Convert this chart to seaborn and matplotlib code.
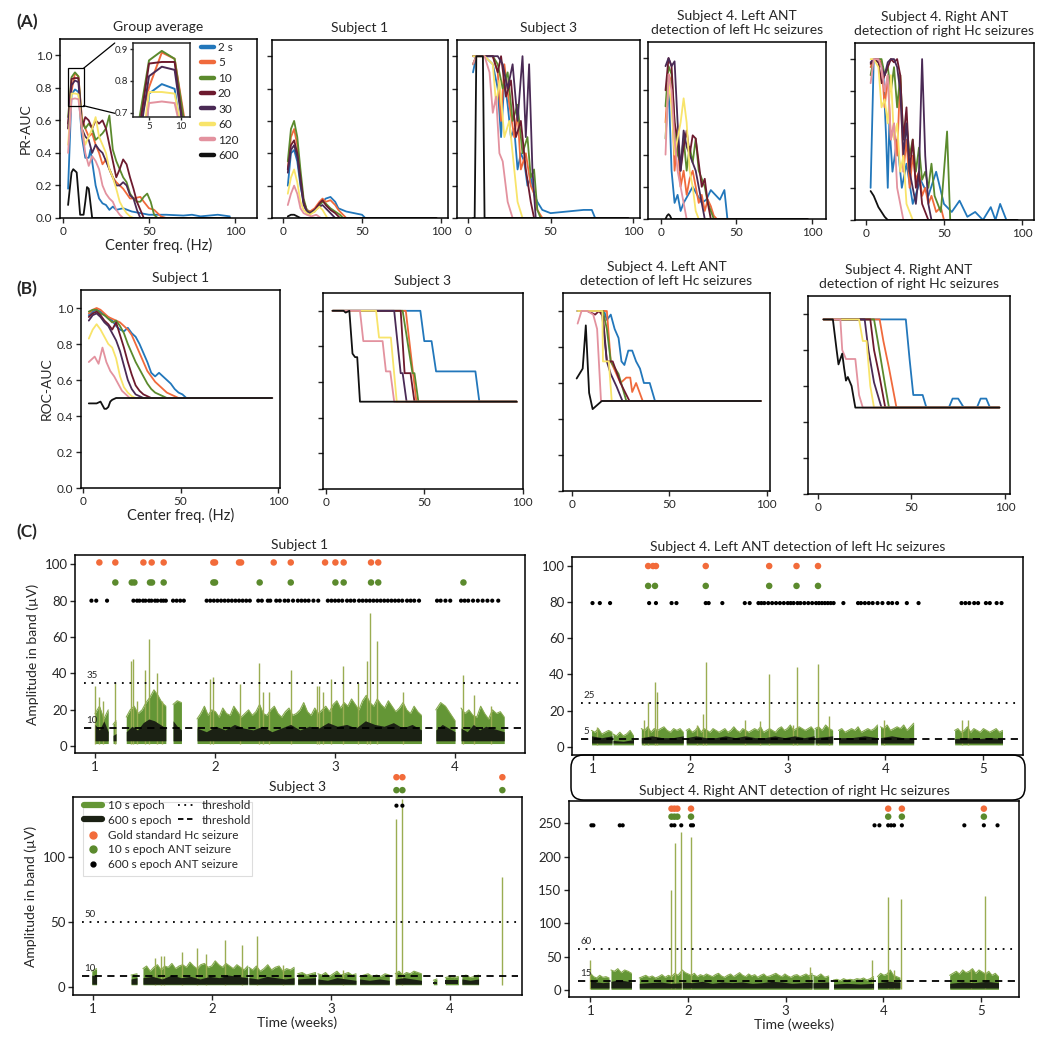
import numpy as np
import pandas as pd
import matplotlib
matplotlib.use("Agg")
import matplotlib.pyplot as plt
import seaborn as sns
from matplotlib.lines import Line2D
from matplotlib.patches import FancyBboxPatch, Rectangle, ConnectionPatch

sns.set_theme(style="ticks")
plt.rcParams['font.family'] = ['Lato', 'DejaVu Sans']
plt.rcParams['axes.linewidth'] = 1.1
plt.rcParams['xtick.major.width'] = 1.0
plt.rcParams['ytick.major.width'] = 1.0

W, H = 1050, 1046

# ---------------------------------------------------------------- data
WINDOWS = ["2 s", "5", "10", "20", "30", "60", "120", "600"]
WIN_COLORS = ["#2277bb", "#f06a3c", "#5b8a2d", "#6d1a2e", "#4a2a55", "#f8e46a", "#e3929f", "#111111"]

# (A) PR-AUC vs center frequency, (freq list, value list) per window
PR_GROUP = {
    "2 s": ([3,5,7,9,11,13,15,16,19,21,23,25,27,29,31,35,40,45,50,60,70,75,80,90,97],
            [0.18,0.76,0.79,0.775,0.50,0.37,0.37,0.42,0.20,0.12,0.09,0.08,0.05,0.07,0.05,0.06,0.04,0.03,0.02,0.02,0.015,0.02,0.01,0.02,0.01]),
    "5": ([3,4,5,7,9,11,13,15,17,19,21,23,25,27,29,31,33,35,37,39,41,45,47,50,53,55,57,60,97],
          [0.55,0.70,0.78,0.89,0.87,0.62,0.55,0.50,0.52,0.45,0.40,0.33,0.36,0.30,0.25,0.22,0.20,0.18,0.15,0.12,0.12,0.13,0.10,0.06,0.05,0.03,0.01,0.0,0.0]),
    "10": ([3,5,7,9,11,13,15,17,19,21,23,25,27,29,31,33,35,37,39,41,43,45,47,49,51,53,55,97],
           [0.62,0.865,0.895,0.87,0.60,0.55,0.58,0.55,0.48,0.50,0.52,0.55,0.63,0.42,0.35,0.30,0.25,0.22,0.15,0.12,0.10,0.10,0.13,0.15,0.10,0.02,0.0,0.0]),
    "20": ([3,5,7,9,11,13,15,17,19,21,23,25,27,29,31,33,35,37,39,41,43,45,47,97],
           [0.58,0.855,0.86,0.86,0.55,0.62,0.60,0.55,0.60,0.58,0.60,0.55,0.45,0.35,0.25,0.30,0.36,0.33,0.25,0.18,0.10,0.05,0.0,0.0]),
    "30": ([3,5,7,9,11,13,15,17,19,21,23,25,27,29,31,33,35,37,39,41,43,45,97],
           [0.55,0.815,0.845,0.835,0.55,0.50,0.48,0.40,0.45,0.42,0.40,0.35,0.30,0.25,0.20,0.20,0.22,0.20,0.14,0.12,0.05,0.0,0.0]),
    "60": ([3,5,7,9,11,13,15,17,19,21,23,25,27,29,31,33,35,37,39,41,97],
           [0.45,0.765,0.765,0.76,0.55,0.45,0.50,0.55,0.62,0.50,0.45,0.40,0.30,0.25,0.18,0.10,0.06,0.03,0.01,0.0,0.0]),
    "120": ([3,5,7,9,11,13,15,17,19,21,23,25,27,29,31,33,35,97],
            [0.40,0.73,0.735,0.73,0.55,0.40,0.32,0.38,0.35,0.30,0.20,0.15,0.12,0.10,0.05,0.02,0.0,0.0]),
    "600": ([3,5,6,8,9,10,11,12,13,14,15,17,97],
            [0.08,0.28,0.30,0.28,0.15,0.02,0.02,0.02,0.10,0.19,0.18,0.0,0.0]),
}
PR_S1 = {
    "2 s": ([3,5,7,9,11,13,15,17,20,23,25,27,30,33,35,40,45,50,52,97],
            [0.2,0.40,0.42,0.35,0.2,0.1,0.05,0.04,0.05,0.08,0.10,0.12,0.13,0.10,0.06,0.04,0.03,0.02,0.0,0.0]),
    "5": ([3,5,7,9,11,13,15,17,20,23,25,27,30,33,35,38,40,97],
          [0.3,0.50,0.55,0.45,0.25,0.1,0.05,0.04,0.06,0.10,0.12,0.10,0.11,0.08,0.05,0.02,0.0,0.0]),
    "10": ([3,5,7,9,11,13,15,17,20,23,25,27,30,33,36,38,97],
           [0.35,0.55,0.60,0.50,0.30,0.12,0.05,0.03,0.04,0.08,0.10,0.09,0.06,0.04,0.02,0.0,0.0]),
    "20": ([3,5,7,9,11,13,15,17,20,23,25,27,30,33,36,97],
           [0.3,0.45,0.48,0.40,0.25,0.1,0.04,0.03,0.05,0.09,0.11,0.08,0.05,0.03,0.0,0.0]),
    "30": ([3,5,7,9,11,13,15,17,20,23,25,27,30,33,97],
           [0.28,0.42,0.45,0.38,0.22,0.08,0.04,0.03,0.05,0.07,0.08,0.06,0.03,0.0,0.0]),
    "60": ([3,5,7,9,11,13,15,17,20,23,25,28,97],
           [0.15,0.25,0.30,0.22,0.10,0.05,0.03,0.02,0.04,0.07,0.05,0.0,0.0]),
    "120": ([3,5,7,9,11,13,15,18,21,24,97],
            [0.08,0.15,0.20,0.15,0.06,0.03,0.02,0.01,0.02,0.0,0.0]),
    "600": ([3,5,7,9,11,97], [0.01,0.02,0.02,0.01,0.0,0.0]),
}
PR_S3 = {
    "2 s": ([3,5,10,15,18,20,22,24,26,28,30,32,34,36,38,40,42,45,50,60,70,75,77,97],
            [0.9,1.0,1.0,0.95,0.8,0.5,0.85,0.7,0.5,0.55,0.3,0.4,0.35,0.2,0.25,0.15,0.1,0.05,0.03,0.04,0.05,0.05,0.0,0.0]),
    "5": ([3,5,10,15,18,20,22,25,28,30,32,35,38,40,42,45,97],
          [0.95,1.0,1.0,1.0,0.9,0.6,0.95,0.7,0.5,0.65,0.3,0.4,0.2,0.15,0.05,0.0,0.0]),
    "10": ([3,5,10,15,18,21,24,27,30,33,36,38,40,42,44,97],
           [0.95,1.0,1.0,1.0,0.95,0.8,0.9,0.6,0.7,0.4,0.5,0.25,0.3,0.05,0.0,0.0]),
    "20": ([3,5,10,15,18,20,23,26,29,32,35,38,40,97],
           [1.0,1.0,1.0,1.0,0.9,1.0,0.75,0.85,0.5,0.6,0.3,0.1,0.0,0.0]),
    "30": ([3,5,10,15,18,21,24,27,30,33,35,37,39,41,97],
           [1.0,1.0,1.0,1.0,1.0,0.95,0.8,0.95,0.6,1.0,0.5,0.95,0.3,0.0,0.0]),
    "60": ([3,5,10,15,17,19,22,25,28,30,33,97],
           [1.0,1.0,1.0,0.95,0.7,0.85,0.5,0.6,0.3,0.1,0.0,0.0]),
    "120": ([3,5,10,13,15,17,19,21,24,27,97],
            [0.95,1.0,1.0,0.9,0.65,0.75,0.4,0.35,0.1,0.0,0.0]),
    "600": ([3,4,5,7,9,10,11,97], [0.0,0.0,1.0,1.0,1.0,0.0,0.0,0.0]),
}
PR_S4L = {
    "2 s": ([3,5,7,9,11,13,15,18,21,24,27,30,33,36,39,42,44,97],
            [0.5,0.85,0.3,0.1,0.15,0.05,0.1,0.15,0.2,0.15,0.1,0.12,0.18,0.15,0.12,0.18,0.0,0.0]),
    "5": ([3,5,7,9,11,13,15,17,19,21,23,25,27,29,31,33,35,37,97],
          [0.6,0.9,0.85,0.3,0.5,0.2,0.3,0.15,0.25,0.3,0.2,0.1,0.15,0.05,0.12,0.08,0.02,0.0,0.0]),
    "10": ([3,5,7,9,11,13,15,17,19,21,23,25,27,29,31,33,35,97],
           [0.7,0.95,0.9,0.6,0.4,0.35,0.5,0.3,0.45,0.35,0.5,0.3,0.25,0.2,0.1,0.05,0.0,0.0]),
    "20": ([3,5,7,9,11,13,15,17,19,21,23,25,27,29,31,33,97],
           [0.8,1.0,0.95,0.6,0.5,0.3,0.45,0.55,0.4,0.52,0.5,0.35,0.2,0.25,0.1,0.0,0.0]),
    "30": ([3,5,7,9,11,13,15,17,19,21,23,25,27,29,97],
           [0.95,1.0,0.95,0.98,0.6,0.3,0.55,0.45,0.4,0.35,0.3,0.2,0.1,0.0,0.0]),
    "60": ([3,5,7,9,11,13,15,17,19,21,23,25,97],
           [0.5,0.85,0.7,0.4,0.5,0.6,0.75,0.6,0.3,0.2,0.05,0.0,0.0]),
    "120": ([3,5,7,9,11,13,15,17,97], [0.4,0.9,0.8,0.5,0.3,0.2,0.1,0.0,0.0]),
    "600": ([3,4,5,6,7,97], [0.0,0.02,0.03,0.02,0.0,0.0]),
}
PR_S4R = {
    "2 s": ([3,5,8,11,13,14,15,17,20,23,26,30,35,40,45,50,55,60,65,70,75,80,83,86,90,97],
            [0.2,1.0,0.98,0.95,0.5,0.2,0.6,0.3,0.5,0.2,0.35,0.1,0.25,0.15,0.3,0.1,0.05,0.12,0.02,0.05,0.0,0.08,0.0,0.1,0.0,0.0]),
    "5": ([3,5,8,10,12,14,16,18,20,22,24,26,28,30,32,34,36,38,40,42,45,48,50,97],
          [0.95,1.0,1.0,0.98,0.7,0.9,0.5,0.6,0.4,0.9,0.3,0.5,0.2,0.4,0.25,0.3,0.15,0.2,0.1,0.15,0.05,0.08,0.0,0.0]),
    "10": ([3,5,8,10,12,14,16,18,20,22,24,26,28,30,32,34,36,38,40,42,44,46,48,50,52,54,97],
           [0.9,1.0,1.0,1.0,0.9,0.95,0.8,0.95,0.7,0.9,0.5,0.6,0.4,0.5,0.3,0.45,0.25,0.3,0.2,0.35,0.15,0.1,0.05,0.3,0.55,0.0,0.0]),
    "20": ([3,5,8,10,12,14,16,18,20,22,24,26,28,30,32,34,36,38,40,97],
           [0.97,1.0,0.98,0.85,0.9,0.95,1.0,0.98,1.0,0.9,0.5,0.7,0.3,0.5,0.2,0.3,0.1,0.05,0.0,0.0]),
    "30": ([3,5,8,10,12,14,16,18,20,22,24,26,28,30,32,34,36,38,40,42,97],
           [0.98,1.0,1.0,0.95,0.9,0.98,1.0,1.0,0.95,0.8,0.4,0.6,0.3,0.2,0.1,0.3,1.0,0.4,0.1,0.0,0.0]),
    "60": ([3,5,8,10,12,14,16,18,20,22,24,26,28,30,97],
           [1.0,1.0,0.95,0.7,0.75,0.6,0.9,0.5,0.6,0.3,0.4,0.1,0.05,0.0,0.0]),
    "120": ([3,5,8,10,12,14,16,18,20,22,24,97],
            [0.85,1.0,1.0,0.95,0.8,0.9,0.5,0.6,0.2,0.1,0.0,0.0]),
    "600": ([3,5,8,10,12,14,97], [0.18,0.15,0.08,0.05,0.02,0.0,0.0]),
}

# (B) ROC-AUC vs center frequency
ROC_S1 = {
    "2 s": ([3,5,7,9,11,13,15,17,19,21,23,25,27,29,31,33,35,37,39,41,43,45,47,49,51,53,97],
            [0.96,0.98,0.99,0.98,0.96,0.95,0.93,0.90,0.88,0.87,0.89,0.86,0.84,0.80,0.75,0.70,0.64,0.62,0.64,0.62,0.60,0.58,0.55,0.53,0.52,0.50,0.50]),
    "5": ([3,5,7,9,11,13,15,17,19,21,23,25,27,29,31,33,35,37,39,41,43,45,47,49,97],
          [0.97,0.99,1.0,0.99,0.97,0.95,0.94,0.93,0.92,0.90,0.88,0.85,0.80,0.75,0.70,0.65,0.62,0.59,0.57,0.55,0.53,0.52,0.51,0.50,0.50]),
    "10": ([3,5,7,9,11,13,15,17,19,21,23,25,27,29,31,33,35,37,39,41,43,97],
           [0.98,0.99,0.99,0.97,0.96,0.94,0.92,0.93,0.90,0.86,0.80,0.75,0.70,0.66,0.62,0.58,0.55,0.53,0.52,0.51,0.50,0.50]),
    "20": ([3,5,7,9,11,13,15,17,19,21,23,25,27,29,31,33,35,37,97],
           [0.95,0.97,0.98,0.96,0.93,0.91,0.88,0.92,0.85,0.78,0.70,0.63,0.57,0.54,0.52,0.51,0.50,0.50,0.50]),
    "30": ([3,5,7,9,11,13,15,17,19,21,23,25,27,29,31,33,97],
           [0.93,0.96,0.97,0.95,0.92,0.90,0.86,0.82,0.76,0.68,0.60,0.55,0.52,0.51,0.50,0.50,0.50]),
    "60": ([3,5,7,9,11,13,15,17,19,21,23,25,27,97],
           [0.83,0.88,0.91,0.88,0.84,0.80,0.78,0.72,0.62,0.56,0.53,0.51,0.50,0.50]),
    "120": ([3,5,6,8,10,12,14,16,18,20,22,24,97],
            [0.70,0.72,0.73,0.69,0.78,0.70,0.65,0.62,0.58,0.54,0.52,0.50,0.50]),
    "600": ([3,5,7,9,10,11,12,13,14,15,17,19,97],
            [0.47,0.47,0.47,0.48,0.46,0.44,0.44,0.45,0.48,0.49,0.50,0.50,0.50]),
}
ROC_S3 = {
    "2 s": ([3.4,10,20,30,40,48,50,53.7,56,76,78,97], [1.0,1.0,1.0,1.0,1.0,1.0,0.83,0.83,0.66,0.66,0.49,0.49]),
    "5": ([3.4,20,30,40.6,46,97], [1.0,1.0,1.0,1.0,0.49,0.49]),
    "10": ([3.4,20,30,39,44,45,47,97], [1.0,1.0,1.0,1.0,0.65,0.65,0.49,0.49]),
    "20": ([3.4,20,30,38,40,43,45,97], [1.0,1.0,1.0,1.0,0.65,0.65,0.49,0.49]),
    "30": ([3.4,20,30,34.7,38,39,41,97], [1.0,1.0,1.0,1.0,0.65,0.65,0.49,0.49]),
    "60": ([3.4,15,25.5,27,33,36,97], [1.0,1.0,1.0,0.85,0.85,0.49,0.49]),
    "120": ([3.4,10,17.3,19,28.8,30.5,32.7,34.7,97], [1.0,1.0,1.0,0.83,0.83,0.66,0.66,0.49,0.49]),
    "600": ([3.4,9,10,11.9,13.5,14.8,15.9,17.3,97], [1.0,1.0,0.99,1.0,0.76,0.74,0.74,0.49,0.49]),
}
ROC_S4L = {
    "2 s": ([3,8,12,16.6,18,20,22,24,25.5,27,29,31,33,35,37,40,42.7,97],
            [1.0,1.0,1.0,1.0,0.95,0.98,0.9,0.85,0.72,0.70,0.78,0.78,0.72,0.68,0.60,0.60,0.50,0.50]),
    "5": ([3,8,12,18,20,25,28,30,31,33,36.4,97],
          [1.0,1.0,1.0,1.0,0.72,0.60,0.63,0.63,0.55,0.60,0.50,0.50]),
    "10": ([3,8,12,16,18,20,24,28,97], [1.0,1.0,1.0,1.0,0.9,0.72,0.65,0.50,0.50]),
    "20": ([3,8,12,14,16,18,21,25,29.6,97], [1.0,1.0,0.98,1.0,0.97,0.72,0.72,0.60,0.50,0.50]),
    "30": ([3,8,12,15.4,18,20,23,26,97], [1.0,1.0,1.0,1.0,0.72,0.65,0.58,0.50,0.50]),
    "60": ([3,8,12,15.7,16,19,20.5,97], [1.0,1.0,1.0,1.0,0.72,0.72,0.50,0.50]),
    "120": ([3,5,8,11,13,14,15,97], [0.93,1.0,1.0,0.98,0.9,0.7,0.50,0.50]),
    "600": ([2.5,5.6,7.2,8.9,10.7,15.4,97], [0.625,0.68,0.92,0.545,0.455,0.50,0.50]),
}
ROC_S4R = {
    "2 s": ([3,10,20,30,40,47,49,51,56,58,60,70,72,75,78,80,85,87,90,92,97],
            [0.97,0.97,0.97,0.97,0.97,0.97,0.75,0.55,0.55,0.48,0.48,0.48,0.53,0.53,0.48,0.48,0.48,0.53,0.53,0.48,0.48]),
    "5": ([3,10,20,33,35,38,42,97], [0.97,0.97,0.97,0.97,0.85,0.70,0.48,0.48]),
    "10": ([3,10,20,30,32,36,38,97], [0.97,0.97,0.97,0.97,0.85,0.60,0.48,0.48]),
    "20": ([3,10,20,28,30,33,36,97], [0.97,0.97,0.97,0.97,0.80,0.65,0.48,0.48]),
    "30": ([3,10,20,25,27,30,34,97], [0.97,0.97,0.97,0.97,0.80,0.62,0.48,0.48]),
    "60": ([3,10,20,22,24,26,28,30,97], [0.97,0.97,0.97,0.97,0.85,0.85,0.60,0.48,0.48]),
    "120": ([3,8,12,13,15,20,22,24,97], [0.97,0.97,0.97,0.80,0.75,0.75,0.55,0.48,0.48]),
    "600": ([3,8,10,11,12,13,14,15,16,18,20,97], [0.97,0.97,0.80,0.72,0.75,0.78,0.70,0.63,0.65,0.60,0.48,0.48]),
}

# (C) amplitude traces: recording segments (weeks), sampled upper envelopes of
# the 10 s epoch trace and the 600 s epoch trace, spikes and detections
S1_SEGS = [(1.00, 1.11), (1.15, 1.175), (1.26, 1.59), (1.65, 1.72), (1.85, 3.72), (3.84, 4.00), (4.05, 4.41)]
S1_G_UP = [[18, 22, 15, 20], [12, 14],
           [16, 20, 22, 18, 20, 24, 27, 31, 28, 24, 22], [23, 25, 24],
           [15, 18, 22, 17, 20, 19, 16, 21, 18, 17, 22, 19, 16, 18, 20, 17, 19, 23, 18, 17, 20, 22, 18, 16, 19, 21, 17, 18, 20, 24,
            19, 17, 21, 18, 20, 22, 19, 23, 25, 21, 24, 22, 26, 23, 20, 25, 28, 24, 22, 26, 23, 21, 25, 22, 19, 21, 24, 20, 18, 22, 19, 17],
           [20, 24, 22, 18, 14], [21, 18, 20, 17, 16, 22, 18, 15, 20, 18, 19, 16]]
S1_B_UP = [[12, 9, 14, 8], [6, 7], [8, 11, 9, 13, 15, 14, 12, 10], [14, 11, 9],
           [10, 8, 11, 9, 12, 10, 9, 11, 8, 10, 12, 9, 11, 10, 13, 11, 12, 10, 14, 12, 11, 13, 10, 12, 9],
           [9, 12, 10, 8], [10, 8, 12, 9, 11, 10, 9, 8]]
S1_G_LOW, S1_B_LOW = 1.5, 3.0
S1_SPIKE_T = [1.0, 1.03, 1.07, 1.17, 1.30, 1.32, 1.35, 1.42, 1.45, 1.52, 1.56, 1.96, 1.98, 2.21, 2.37, 2.40, 2.45, 2.63, 2.85, 2.87,
              2.90, 2.97, 3.07, 3.19, 3.27, 3.29, 3.35, 3.57, 4.07, 4.16, 4.30]
S1_SPIKE_A = [33, 27, 25, 35, 47, 48, 25, 42, 59, 40, 25, 37, 38, 34, 46, 30, 30, 42, 33, 33,
              30, 37, 44, 35, 47, 73, 58, 30, 39, 28, 22]
S1_GOLD = [1.036, 1.169, 1.403, 1.472, 1.572, 1.986, 2.0, 2.2, 2.217, 2.489, 2.631, 2.917, 3.003, 3.072, 3.30, 3.36]
S1_DET10 = [1.169, 1.306, 1.328, 1.458, 1.475, 1.572, 1.986, 2.0, 2.372, 2.631, 3.003, 3.072, 3.30, 3.36, 4.07]
S1_DET600 = [0.97, 1.01, 1.10, 1.32, 1.35, 1.37, 1.40, 1.42, 1.45, 1.47, 1.50, 1.52, 1.55, 1.57, 1.59, 1.65, 1.68, 1.71, 1.74,
             1.93, 1.96, 1.99, 2.02, 2.05, 2.08, 2.11, 2.14, 2.17, 2.20, 2.23, 2.26, 2.29, 2.36, 2.39, 2.44, 2.46, 2.51, 2.54,
             2.58, 2.61, 2.65, 2.69, 2.72, 2.75, 2.78, 2.82, 2.86, 2.94, 2.97, 3.0, 3.03, 3.06, 3.10, 3.13, 3.16, 3.2, 3.23,
             3.26, 3.29, 3.32, 3.35, 3.38, 3.41, 3.44, 3.47, 3.5, 3.53, 3.56, 3.6, 3.63, 3.66, 3.7, 3.85, 3.88, 3.92, 3.96,
             4.05, 4.08, 4.11, 4.15, 4.19, 4.23, 4.27, 4.31, 4.36]
S1_LEVELS = (101, 90, 80)
S1_THR = (35, 10)

S3_SEGS = [(0.99, 1.03), (1.32, 1.37), (1.42, 2.30), (2.31, 2.69), (2.72, 2.87), (2.89, 3.21), (3.24, 3.49),
           (3.54, 3.76), (3.86, 3.89), (3.96, 4.07), (4.10, 4.24)]
S3_G_UP = [[12, 14], [9, 10],
           [14, 16, 12, 15, 17, 13, 16, 15, 18, 14, 16, 17, 15, 19, 16, 14, 17, 18, 15, 16, 20, 17, 15, 18, 16, 14, 17, 15, 13, 16],
           [15, 13, 16, 12, 14, 17, 13, 15, 16, 12, 14, 13, 15], [10, 11, 9, 10, 11],
           [10, 9, 11, 8, 10, 12, 9, 10, 11, 9, 10], [8, 9, 10, 8, 9, 8, 10, 9], [10, 12, 9, 11, 10, 12, 11, 10],
           [5, 6], [7, 8, 7, 8], [8, 9, 7, 8, 9]]
S3_B_UP = [[9, 8], [6, 7], [7, 8, 6, 9, 7, 8, 6, 8, 7, 9, 8, 7], [7, 6, 8, 7, 6, 7], [6, 7], [6, 5, 7, 6, 5],
           [6, 5, 6, 5], [6, 7, 6, 5], [4, 4], [5, 5], [6, 5, 6]]
S3_G_LOW, S3_B_LOW = 1.5, 2.0
S3_SPIKE_T = [1.52, 1.57, 1.60, 1.75, 1.87, 1.95, 2.11, 2.25, 2.38, 2.60, 3.10, 3.55, 3.60, 4.44]
S3_SPIKE_A = [22, 24, 24, 27, 30, 25, 36, 32, 39, 17, 13, 130, 145, 85]
S3_GOLD = [3.55, 3.60, 4.44]
S3_DET10 = [3.55, 3.60, 4.44]
S3_DET600 = [3.55, 3.60]
S3_LEVELS = (162, 152, 140)
S3_THR = (50, 8)
S3_THR_TXT = ("50", "10")

S4L_SEGS = [(0.99, 1.20), (1.21, 1.42), (1.50, 1.93), (1.96, 3.27), (3.28, 3.46), (3.52, 3.92), (3.95, 4.29), (4.71, 5.20)]
S4L_G_UP = [[9, 8, 10, 7, 8, 9, 8], [7, 6, 8, 6, 7, 9, 6], [10, 9, 11, 8, 10, 9, 10, 11, 9, 8, 10, 9, 10, 8],
            [9, 10, 8, 9, 11, 8, 10, 9, 8, 10, 9, 8, 9, 10, 8, 9, 11, 9, 8, 10, 9, 8, 9, 10, 9, 11, 8, 9, 10, 9, 8, 10, 11, 9,
             10, 12, 9, 10, 11, 10, 9, 10, 11, 9],
            [10, 11, 9, 12, 10, 9], [9, 10, 8, 9, 10, 9, 11, 8, 9, 10, 9, 10, 12], [11, 10, 12, 9, 10, 11, 10, 12, 9, 11, 13],
            [9, 10, 8, 9, 11, 8, 10, 9, 8, 10, 9, 8, 9, 10, 8, 9]]
S4L_B_UP = [[6, 5, 6], [3.5, 3, 4], [5, 6, 5, 5, 6], [5, 6, 5, 5, 6, 5, 6, 5, 5, 6, 5, 6, 5, 6], [5, 6], [5, 5, 6, 5],
            [5, 6, 5, 5], [4.5, 5, 4.5, 5, 4.5]]
S4L_G_LOW, S4L_B_LOW = 1.0, 2.0
S4L_SPIKE_T = [1.05, 1.53, 1.57, 1.64, 1.66, 2.07, 2.13, 2.16, 2.56, 2.72, 2.81, 3.05, 3.09, 3.31, 3.42, 3.99, 4.78, 4.85]
S4L_SPIKE_A = [11, 15, 25, 36, 30, 12, 18, 47, 15, 14, 40, 12, 44, 46, 17, 15, 15, 15]
S4L_GOLD = [1.57, 1.62, 1.65, 2.16, 2.81, 3.09, 3.31]
S4L_DET10 = [1.57, 1.64, 2.16, 2.81, 3.09, 3.31]
S4L_DET600 = [1.0, 1.075, 1.18, 1.58, 1.65, 1.81, 1.86, 2.16, 2.19, 2.33, 2.56, 2.61, 2.70, 2.73, 2.76, 2.80, 2.84, 2.88,
              2.92, 2.96, 3.0, 3.03, 3.06, 3.10, 3.13, 3.17, 3.21, 3.25, 3.29, 3.32, 3.35, 3.38, 3.41, 3.44, 3.47, 3.57,
              3.72, 3.75, 3.79, 3.83, 3.87, 3.92, 3.97, 4.03, 4.07, 4.12, 4.22, 4.34, 4.78, 4.82, 4.86, 4.91, 4.95, 5.03,
              5.07, 5.14, 5.19]
S4L_LEVELS = (100, 89, 79.5)
S4L_THR = (24, 4.5)
S4L_THR_TXT = ("25", "5")

S4R_SEGS = [(1.00, 1.19), (1.21, 1.42), (1.50, 1.93), (1.94, 3.27), (3.28, 3.44), (3.49, 3.90), (3.94, 4.17), (4.68, 5.18)]
S4R_G_UP = [[25, 20, 18, 22, 19, 20, 18], [30, 28, 32, 26, 30, 28, 25], [18, 20, 22, 19, 21, 18, 20, 23, 19, 22, 20, 25, 22, 28],
            [30, 26, 24, 22, 25, 20, 23, 21, 24, 22, 20, 23, 25, 21, 19, 22, 24, 20, 23, 26, 22, 20, 24, 21, 23, 19, 22, 24,
             20, 21, 23, 25, 22, 20, 24, 21, 19, 22, 23, 20, 22, 24, 21, 25],
            [22, 20, 24, 19, 21], [15, 16, 14, 17, 15, 16, 15, 17, 16, 18, 15, 17, 20], [20, 25, 22, 24, 30, 22, 20, 18],
            [22, 25, 28, 24, 30, 26, 28, 32, 25, 30, 27, 24, 28, 22, 25, 20]]
S4R_B_UP = [[16, 12, 11, 12], [13, 15, 14, 12], [10, 11, 12, 10, 11], [12, 11, 13, 10, 12, 11, 12, 10, 11, 13, 12, 10, 11, 12],
            [11, 12], [9, 10, 9, 10], [11, 13, 12], [10, 12, 11, 13, 11]]
S4R_G_LOW, S4R_B_LOW = 1.0, 3.0
S4R_SPIKE_T = [1.0, 1.83, 1.87, 1.93, 2.03, 3.25, 3.88, 4.05, 4.11, 4.18, 4.90, 5.04]
S4R_SPIKE_A = [45, 150, 221, 237, 229, 35, 45, 140, 30, 137, 32, 141]
S4R_GOLD = [1.83, 1.86, 1.89, 2.03, 4.05, 4.19, 5.03]
S4R_DET10 = [1.83, 1.86, 1.89, 2.03, 4.05, 4.19, 5.03]
S4R_DET600 = [1.01, 1.03, 1.30, 1.33, 1.83, 1.86, 1.93, 2.03, 2.05, 3.91, 3.96, 4.05, 4.08, 4.11, 4.19, 4.83, 5.03, 5.17]
S4R_LEVELS = (272, 260, 247)
S4R_THR = (61, 14)
S4R_THR_TXT = ("60", "15")

# ---------------------------------------------------------------- styling
GREEN_BAND = "#649636"
GREEN_EDGE = "#86a94e"
SPIKE_COL = "#9aad52"
BAND_BLACK = "#1b2114"
GOLD_COL = "#f26b3a"
DET10_COL = "#5b8a2d"
TICK_FS = 8.5
TITLE_FS = 10

fig = plt.figure(figsize=(W / 100, H / 100), dpi=100)


def rect(x0, y0, x1, y1):
    return [x0 / W, 1 - y1 / H, (x1 - x0) / W, (y1 - y0) / H]


def to_long(series):
    rows = []
    for w in WINDOWS:
        xs, ys = series[w]
        for x, y in zip(xs, ys):
            rows.append((w, x, y))
    return pd.DataFrame(rows, columns=["window", "freq", "auc"])


def auc_panel(box, series, xlim, title, ylabel=None, label_y=False, xlabel=None, legend=False):
    ax = fig.add_axes(rect(*box))
    df = to_long(series)
    sns.lineplot(data=df, x="freq", y="auc", hue="window", hue_order=WINDOWS, palette=WIN_COLORS,
                 estimator=None, sort=False, lw=1.3, ax=ax, legend=legend)
    ax.set_xlim(*xlim)
    ax.set_ylim(0, 1.1)
    ax.set_xticks([0, 50, 100])
    ax.set_yticks([0, 0.2, 0.4, 0.6, 0.8, 1.0])
    if label_y:
        ax.set_yticklabels(["0.0", "0.2", "0.4", "0.6", "0.8", "1.0"])
    else:
        ax.set_yticklabels([])
    ax.tick_params(labelsize=TICK_FS, length=3.5, pad=2)
    ax.set_xlabel(xlabel if xlabel else "", fontsize=10.5, labelpad=1)
    ax.set_ylabel(ylabel if ylabel else "", fontsize=10, labelpad=3)
    ax.set_title(title, fontsize=TITLE_FS, pad=6, linespacing=1.15)
    for s in ax.spines.values():
        s.set_visible(True)
        s.set_color("black")
    return ax


# ---------------- (A)
axg = auc_panel((60, 39, 257, 218), PR_GROUP, (-1.7, 112.8), "Group average", ylabel="PR-AUC",
                label_y=True, xlabel="Center freq. (Hz)", legend=True)
h, l = axg.get_legend_handles_labels()
axg.legend(h, l, loc="upper left", bbox_to_anchor=(0.715, 0.985), frameon=False, fontsize=8.5,
           handlelength=1.1, handletextpad=0.35, labelspacing=0.38, borderaxespad=0, borderpad=0)
for hl in axg.get_legend().get_lines():
    hl.set_linewidth(3.2)
# zoom rectangle + inset
axg.add_patch(Rectangle((2.7, 0.69), 9.3, 0.23, fill=False, ec="black", lw=0.9, zorder=5))
axi = fig.add_axes(rect(133, 43, 190, 117))
sns.lineplot(data=to_long(PR_GROUP), x="freq", y="auc", hue="window", hue_order=WINDOWS, palette=WIN_COLORS,
             estimator=None, sort=False, lw=1.4, ax=axi, legend=False)
axi.set_xlim(2.5, 11.4)
axi.set_ylim(0.686, 0.92)
axi.set_xticks([5, 10])
axi.set_yticks([0.7, 0.8, 0.9])
axi.set_yticklabels(["0.7", "0.8", "0.9"])
axi.tick_params(labelsize=7, length=2.5, pad=1)
axi.set_xlabel("")
axi.set_ylabel("")
for s in axi.spines.values():
    s.set_visible(True)
for (xa, ya), yb in [((12, 0.92), 1.0), ((12, 0.69), 0.05)]:
    cp = ConnectionPatch(xyA=(xa, ya), coordsA=axg.transData, xyB=(-0.32, yb), coordsB=axi.transAxes,
                         color="black", lw=0.9)
    fig.add_artist(cp)

auc_panel((272, 40, 448, 218), PR_S1, (-7, 104.4), "Subject 1")
auc_panel((457, 40, 640, 218), PR_S3, (-6.7, 104.2), "Subject 3")
auc_panel((648, 42, 826, 219), PR_S4L, (-8.6, 109.3), "Subject 4. Left ANT\ndetection of left Hc seizures")
auc_panel((855, 43, 1034, 220), PR_S4R, (-7, 107.7), "Subject 4. Right ANT\ndetection of right Hc seizures")

# ---------------- (B)
auc_panel((81, 290, 280, 488), ROC_S1, (-1, 101), "Subject 1", ylabel="ROC-AUC", label_y=True,
          xlabel="Center freq. (Hz)")
auc_panel((323, 293, 523, 489), ROC_S3, (-1.5, 100.2), "Subject 3")
auc_panel((563, 293, 770, 491), ROC_S4L, (-4.5, 101.7), "Subject 4. Left ANT\ndetection of left Hc seizures")
auc_panel((808, 296, 1010, 494), ROC_S4R, (-5.3, 102.7), "Subject 4. Right ANT\ndetection of right Hc seizures")


# ---------------- (C)
def amp_panel(box, xlim, ylim, yticks, xticks, title, segs, g_up, b_up, g_low, b_low, sp_t, sp_a,
              gold, det10, det600, levels, thr, thr_txt, ylabel=False, xlabel=False):
    ax = fig.add_axes(rect(*box))
    for (a, b), gu in zip(segs, g_up):
        t = np.linspace(a, b, len(gu))
        ax.fill_between(t, g_low, gu, color=GREEN_BAND, lw=0, zorder=2)
        ax.plot(t, gu, color=GREEN_EDGE, lw=0.8, zorder=2)
    ax.vlines(sp_t, g_low, sp_a, color=SPIKE_COL, lw=1.0, zorder=2)
    for (a, b), bu in zip(segs, b_up):
        t = np.linspace(a, b, len(bu))
        ax.fill_between(t, b_low, bu, color=BAND_BLACK, lw=0, zorder=3)
    x0, x1 = xlim[0] + 0.02 * (xlim[1] - xlim[0]), xlim[1] - 0.01 * (xlim[1] - xlim[0])
    ax.plot([x0, x1], [thr[0], thr[0]], color="black", lw=1.3, ls=(0, (1, 3.2)), zorder=4)
    ax.plot([x0, x1], [thr[1], thr[1]], color="black", lw=1.3, ls=(0, (4, 3)), zorder=4)
    yr = ylim[1] - ylim[0]
    ax.text(x0 + 0.005 * (xlim[1] - xlim[0]), thr[0] + 0.015 * yr, thr_txt[0], fontsize=7, va="bottom")
    ax.text(x0 + 0.005 * (xlim[1] - xlim[0]), thr[1] + 0.015 * yr, thr_txt[1], fontsize=7, va="bottom")
    sns.scatterplot(x=gold, y=[levels[0]] * len(gold), color=GOLD_COL, s=22, edgecolor="none", ax=ax,
                    clip_on=False, zorder=5)
    sns.scatterplot(x=det10, y=[levels[1]] * len(det10), color=DET10_COL, s=22, edgecolor="none", ax=ax,
                    clip_on=False, zorder=5)
    sns.scatterplot(x=det600, y=[levels[2]] * len(det600), color="black", s=9, edgecolor="none", ax=ax,
                    clip_on=False, zorder=5)
    ax.set_xlim(*xlim)
    ax.set_ylim(*ylim)
    ax.set_xticks(xticks)
    ax.set_xticklabels([str(v) for v in xticks])
    ax.set_yticks(yticks)
    ax.set_yticklabels([str(v) for v in yticks])
    ax.tick_params(labelsize=9.5, length=3.5, pad=2)
    ax.set_title(title, fontsize=TITLE_FS, pad=4)
    ax.set_ylabel("Amplitude in band (µV)" if ylabel else "", fontsize=10, labelpad=4)
    ax.set_xlabel("Time (weeks)" if xlabel else "", fontsize=10, labelpad=1)
    for s in ax.spines.values():
        s.set_visible(True)
        s.set_color("black")
    return ax


amp_panel((75, 555, 525, 753), (0.833, 4.583), (-3.7, 105.1), [0, 20, 40, 60, 80, 100], [1, 2, 3, 4], "Subject 1",
          S1_SEGS, S1_G_UP, S1_B_UP, S1_G_LOW, S1_B_LOW, S1_SPIKE_T, S1_SPIKE_A, S1_GOLD, S1_DET10, S1_DET600,
          S1_LEVELS, S1_THR, ("35", "10"), ylabel=True)
amp_panel((572, 557, 1023, 755), (0.79, 5.41), (-4.6, 105), [0, 20, 40, 60, 80, 100], [1, 2, 3, 4, 5],
          "Subject 4. Left ANT detection of left Hc seizures",
          S4L_SEGS, S4L_G_UP, S4L_B_UP, S4L_G_LOW, S4L_B_LOW, S4L_SPIKE_T, S4L_SPIKE_A, S4L_GOLD, S4L_DET10,
          S4L_DET600, S4L_LEVELS, S4L_THR, S4L_THR_TXT)
ax3 = amp_panel((73, 797, 522, 995), (0.832, 4.605), (-6.4, 146.7), [0, 50, 100], [1, 2, 3, 4], "Subject 3",
                S3_SEGS, S3_G_UP, S3_B_UP, S3_G_LOW, S3_B_LOW, S3_SPIKE_T, S3_SPIKE_A, S3_GOLD, S3_DET10, S3_DET600,
                S3_LEVELS, S3_THR, S3_THR_TXT, ylabel=True, xlabel=True)
amp_panel((569, 801, 1019, 997), (0.78, 5.39), (-10.5, 283.5), [0, 50, 100, 150, 200, 250], [1, 2, 3, 4, 5],
          "Subject 4. Right ANT detection of right Hc seizures",
          S4R_SEGS, S4R_G_UP, S4R_B_UP, S4R_G_LOW, S4R_B_LOW, S4R_SPIKE_T, S4R_SPIKE_A, S4R_GOLD, S4R_DET10,
          S4R_DET600, S4R_LEVELS, S4R_THR, S4R_THR_TXT, xlabel=True)

# legend of (C)
h1 = [Line2D([], [], color=GREEN_BAND, lw=4.5), Line2D([], [], color=BAND_BLACK, lw=4.5),
      Line2D([], [], color="black", lw=1.3, ls=(0, (1, 2.5))), Line2D([], [], color="black", lw=1.3, ls=(0, (3, 2)))]
leg1 = ax3.legend(h1, ["10 s epoch", "600 s epoch", "threshold", "threshold"], ncol=2, loc="upper left",
                  bbox_to_anchor=(0.025, 0.985), frameon=False, fontsize=8.5, handlelength=1.5,
                  handletextpad=0.5, columnspacing=0.6, labelspacing=0.3, borderaxespad=0, borderpad=0)
ax3.add_artist(leg1)
h2 = [Line2D([], [], ls="none", marker="o", color=GOLD_COL, ms=5),
      Line2D([], [], ls="none", marker="o", color=DET10_COL, ms=5),
      Line2D([], [], ls="none", marker="o", color="black", ms=3.5)]
ax3.legend(h2, ["Gold standard Hc seizure", "10 s epoch ANT seizure", "600 s epoch ANT seizure"], loc="upper left",
           bbox_to_anchor=(0.025, 0.835), frameon=False, fontsize=8.5, handlelength=1.5, handletextpad=0.5,
           labelspacing=0.3, borderaxespad=0, borderpad=0)
ax3.add_patch(Rectangle((0.022, 0.60), 0.376, 0.375, transform=ax3.transAxes, fill=False, ec="#dddddd", lw=0.8))

# rounded frame between the right-hand panels of (C)
fig.add_artist(FancyBboxPatch((571 / W, 1 - 800 / H), 454 / W, 45 / H, boxstyle="round,pad=0,rounding_size=0.012",
                              transform=fig.transFigure, fill=False, ec="black", lw=1.1))

# panel letters
for txt, (px, py) in [("(A)", (16, 22)), ("(B)", (16, 289)), ("(C)", (16, 532))]:
    fig.text(px / W, 1 - py / H, txt, fontsize=12.5, fontweight="bold", va="center", ha="left")

fig.savefig("out.png", dpi=100)
